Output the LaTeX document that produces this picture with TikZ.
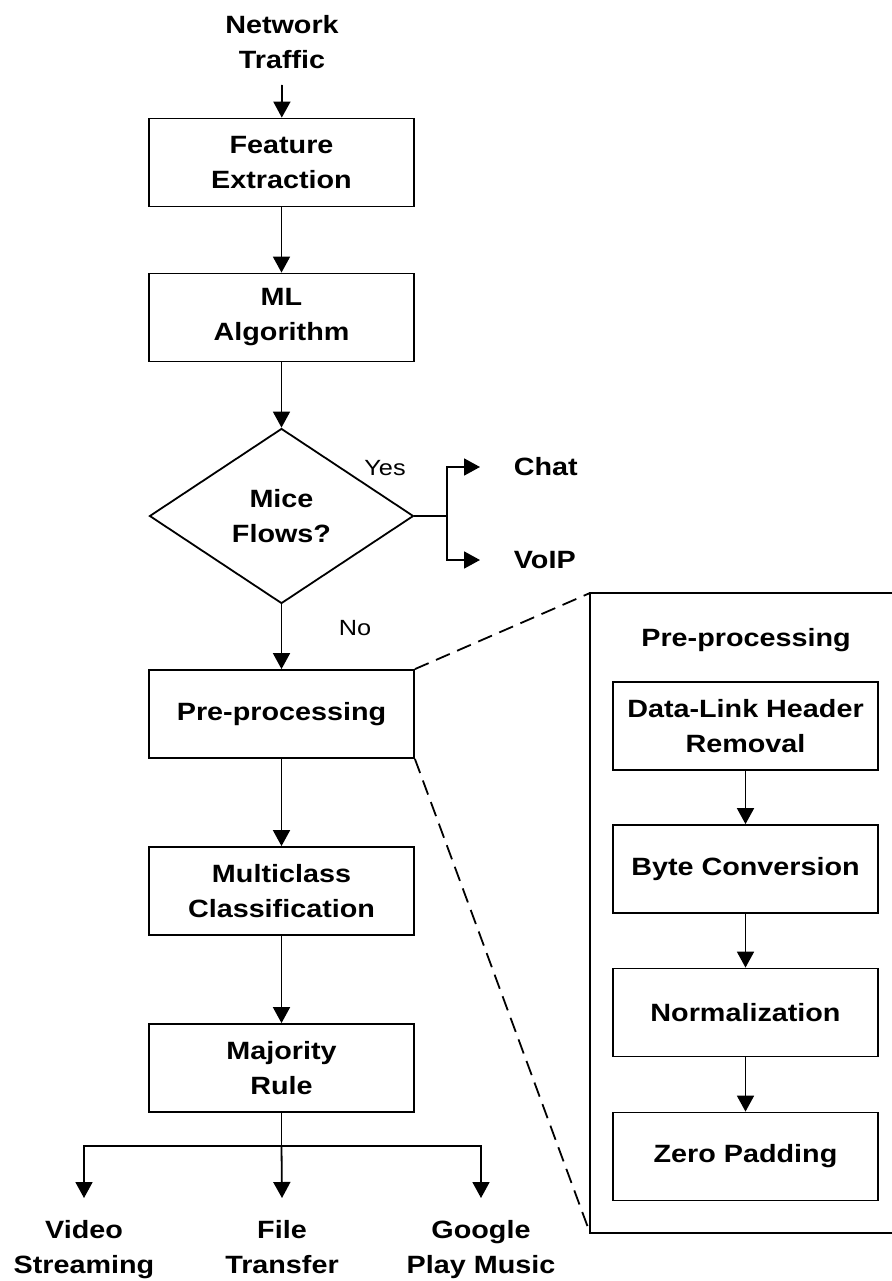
\documentclass[tikz,border=0pt]{standalone}
\usepackage{fontspec}
\setmainfont{Liberation Sans}[FakeStretch=1.15]
\usetikzlibrary{arrows.meta,shapes.geometric}

\begin{document}
\begin{tikzpicture}[x=1pt,y=-1pt,
  font=\fontsize{25}{35}\selectfont\bfseries,
  line width=1.8pt,
  stage/.style={draw, rectangle, minimum width=265pt, minimum height=88pt, align=center, inner sep=0pt},
  outcome/.style={align=center, inner sep=0pt},
  answer/.style={inner sep=0pt, font=\fontsize{22}{26}\selectfont\mdseries},
  flow/.style={-{Triangle[length=16pt,width=17pt]}},
  zoomline/.style={dash pattern=on 15pt off 8pt}]
\useasboundingbox (0,0) rectangle (891,1281);
%
\node[outcome] (traffic) at (282,42) {Network\\Traffic};
\coordinate (trafficout) at (282,85);
\node[stage] (feat) at (281.5,162.5) {Feature\\Extraction};
\node[stage] (ml) at (281.5,317.5) {ML\\Algorithm};
\node[draw, diamond, aspect=1.5, minimum width=264pt, minimum height=175pt, inner sep=0pt, align=center] (mice) at (281.5,516) {Mice\\Flows?};
\node[stage] (pre) at (281.5,714) {Pre-processing};
\node[stage] (multi) at (281.5,891) {Multiclass\\Classification};
\node[stage] (major) at (281.5,1068) {Majority\\Rule};
%
\draw[flow] (trafficout) -- (feat);
\draw[flow] (feat) -- (ml);
\draw[flow] (ml) -- (mice);
\draw[flow] (mice) -- (pre);
\draw[flow] (pre) -- (multi);
\draw[flow] (multi) -- (major);
\node[answer] (yes) at (385,468) {Yes};
\node[answer] (no) at (355,628) {No};
%
% mice flows branch
\coordinate (split) at (447,516);
\node[outcome, anchor=west] (chat) at (513,467) {Chat};
\node[outcome, anchor=west] (voip) at (513,560) {VoIP};
\draw (mice.east) -- (split);
\draw[flow] (split) |- ([xshift=-33pt]chat.west);
\draw[flow] (split) |- ([xshift=-33pt]voip.west);
%
% elephant flows outcomes
\coordinate (fork) at (281.5,1146);
\node[outcome, anchor=north, inner ysep=21pt] (video) at (84,1198) {Video\\Streaming};
\node[outcome, anchor=north, inner ysep=21pt] (file) at (282,1198) {File\\Transfer};
\node[outcome, anchor=north, inner ysep=21pt] (music) at (481,1198) {Google\\Play Music};
\draw (major) -- (fork);
\draw[flow] (fork) -| (video.north);
\draw[flow] (fork) -| (music.north);
\draw[flow] (fork) -- (file.north);
%
% pre-processing detail
\coordinate (paneltl) at (590,593);
\coordinate (paneltr) at (896,593);
\coordinate (panelbl) at (590,1233);
\coordinate (panelbr) at (896,1233);
\draw (paneltr) -- (paneltl) -- (panelbl) -- (panelbr);
\draw[zoomline] (pre.north east) -- (paneltl);
\draw[zoomline] (pre.south east) -- (panelbl);
\node[outcome] (pretitle) at (746,640) {Pre-processing};
\node[stage] (dlh) at (745.5,726) {Data-Link Header\\Removal};
\node[stage] (byte) at (745.5,869) {Byte Conversion};
\node[stage] (norm) at (745.5,1012.5) {Normalization};
\node[stage] (zero) at (745.5,1156.5) {Zero Padding};
\draw[flow] (dlh) -- (byte);
\draw[flow] (byte) -- (norm);
\draw[flow] (norm) -- (zero);
\end{tikzpicture}
\end{document}
